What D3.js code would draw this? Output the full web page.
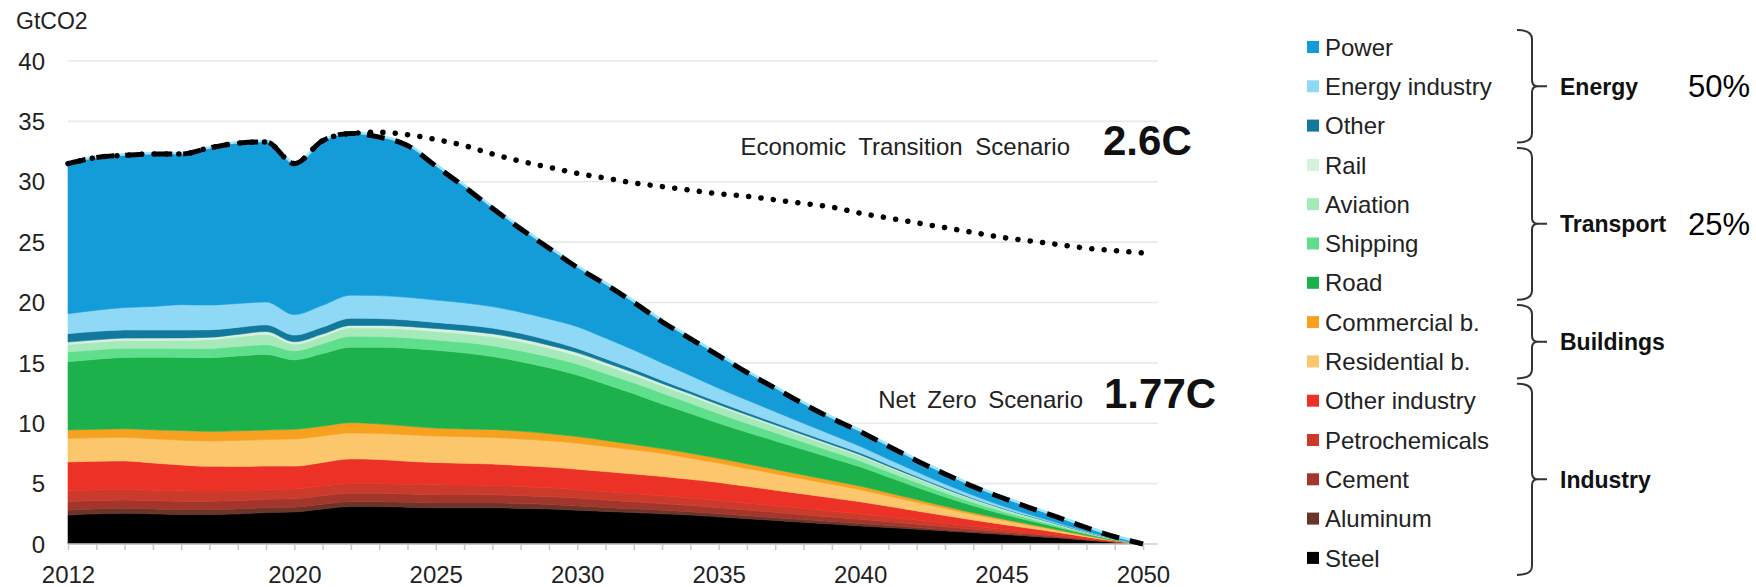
<!DOCTYPE html>
<html>
<head>
<meta charset="utf-8">
<script src="https://cdn.jsdelivr.net/npm/d3@7"></script>
<style>
  html, body { margin: 0; padding: 0; background: #ffffff; }
  svg { display: block; }
  text { font-family: "Liberation Sans", Arial, sans-serif; }
</style>
</head>
<body>
<svg id="chart" width="1756" height="587"></svg>
<script>
// ---------------- DATA ----------------
const years = [2012,2013,2014,2015,2016,2017,2018,2019,2020,2021,2022,2023,2024,2025,2026,2027,2028,2029,2030,
  2031,2032,2033,2034,2035,2036,2037,2038,2039,2040,2041,2042,2043,2044,2045,2046,2047,2048,2049,2050];

const steel = [2.4,2.5,2.55,2.5,2.45,2.45,2.5,2.6,2.65, 2.9,3.1,3.1,3.05,3.0,3.0,3.0,2.95,2.9,2.8,
  2.7,2.6,2.5,2.4,2.25,2.1,1.95,1.8,1.65,1.5, 1.36,1.22,1.08,0.94,0.8,0.65,0.5,0.32,0.14,0];
const aluminum = [0.4,0.4,0.4,0.4,0.4,0.4,0.4,0.4,0.4, 0.4,0.4,0.4,0.4,0.4,0.4,0.4,0.4,0.38,0.35,
  0.33,0.32,0.3,0.27,0.25,0.24,0.23,0.22,0.21,0.2, 0.17,0.14,0.11,0.09,0.07,0.05,0.04,0.02,0.01,0];
const cement = [0.7,0.7,0.7,0.7,0.7,0.7,0.7,0.7,0.7, 0.7,0.7,0.7,0.7,0.7,0.7,0.68,0.65,0.65,0.65,
  0.62,0.58,0.55,0.52,0.5,0.47,0.44,0.41,0.38,0.35, 0.31,0.27,0.23,0.19,0.15,0.12,0.08,0.05,0.02,0];
const petrochemicals = [0.9,0.9,0.88,0.86,0.85,0.83,0.82,0.8,0.8, 0.8,0.8,0.8,0.8,0.8,0.78,0.77,0.75,0.72,0.7,
  0.68,0.67,0.65,0.62,0.6,0.57,0.54,0.51,0.48,0.45, 0.4,0.35,0.3,0.25,0.2,0.16,0.12,0.07,0.03,0];
const otherIndustry = [2.4,2.35,2.35,2.25,2.15,2.05,2.0,1.95,1.9, 1.95,2.05,2.0,1.9,1.85,1.8,1.78,1.75,1.72,1.7,
  1.67,1.63,1.6,1.55,1.5,1.4,1.3,1.2,1.1,1.0, 0.88,0.76,0.64,0.52,0.42,0.32,0.22,0.13,0.05,0];
const residential = [1.95,1.95,1.95,2.0,2.05,2.1,2.15,2.2,2.25, 2.2,2.15,2.15,2.2,2.2,2.2,2.2,2.2,2.18,2.15,
  2.08,2.0,1.9,1.75,1.6,1.48,1.36,1.24,1.12,1.0, 0.86,0.72,0.58,0.45,0.34,0.25,0.16,0.09,0.03,0];
const commercial = [0.7,0.7,0.72,0.75,0.8,0.8,0.8,0.8,0.8, 0.82,0.85,0.8,0.72,0.65,0.65,0.65,0.65,0.6,0.55,
  0.5,0.45,0.4,0.4,0.4,0.38,0.36,0.34,0.32,0.3, 0.26,0.22,0.18,0.15,0.12,0.09,0.06,0.04,0.02,0];
const road = [5.65,5.8,5.9,6.0,6.05,6.1,6.2,6.25,5.75, 6.0,6.25,6.35,6.45,6.45,6.3,6.05,5.75,5.45,5.1,
  4.65,4.2,3.7,3.3,2.9,2.62,2.36,2.1,1.85,1.6, 1.3,1.02,0.78,0.57,0.4,0.28,0.19,0.1,0.04,0];
const shipping = [0.8,0.78,0.76,0.75,0.75,0.77,0.79,0.8,0.75, 0.82,0.9,0.88,0.86,0.85,0.87,0.89,0.9,0.9,0.9,
  0.9,0.9,0.9,0.85,0.8,0.74,0.68,0.62,0.56,0.5, 0.45,0.4,0.34,0.28,0.22,0.17,0.12,0.07,0.03,0];
const aviation = [0.62,0.63,0.64,0.65,0.67,0.72,0.8,0.85,0.55, 0.6,0.7,0.7,0.7,0.7,0.72,0.74,0.75,0.72,0.7,
  0.67,0.63,0.6,0.6,0.6,0.56,0.52,0.48,0.44,0.4, 0.36,0.32,0.27,0.22,0.18,0.14,0.1,0.06,0.02,0];
const rail = [0.2,0.2,0.2,0.2,0.2,0.2,0.2,0.25,0.2, 0.2,0.2,0.22,0.24,0.25,0.25,0.25,0.25,0.25,0.25,
  0.23,0.22,0.2,0.18,0.15,0.14,0.13,0.12,0.11,0.1, 0.09,0.08,0.07,0.06,0.05,0.04,0.03,0.02,0.01,0];
const otherEnergy = [0.7,0.7,0.68,0.66,0.65,0.62,0.58,0.55,0.55, 0.58,0.6,0.57,0.53,0.5,0.48,0.47,0.45,0.4,0.35,
  0.32,0.28,0.25,0.22,0.2,0.19,0.18,0.17,0.16,0.15, 0.13,0.11,0.09,0.07,0.05,0.04,0.03,0.02,0.01,0];
const energyIndustry = [1.65,1.75,1.85,1.95,2.1,2.05,1.98,1.9,1.7, 1.8,1.9,1.9,1.88,1.85,1.82,1.78,1.75,1.77,1.8,
  1.7,1.58,1.45,1.3,1.15,1.03,0.91,0.79,0.67,0.55, 0.45,0.37,0.3,0.24,0.18,0.13,0.09,0.06,0.03,0];
const power = [12.43,12.64,12.62,12.63,12.48,13.01,13.28,13.25,12.5, 13.63,13.4,13.13,12.57,11.1,9.63,8.14,6.9,5.86,4.9,
  4.45,3.94,3.4,3.04,2.7,2.28,1.94,1.6,1.35,1.2, 1.08,0.92,0.83,0.72,0.67,0.56,0.46,0.3,0.16,0];

const economicTransition = [31.5,32.0,32.2,32.3,32.3,32.8,33.2,33.3,31.5, 33.4,34.0,34.1,33.9,33.5,33.0,32.3,31.7,31.2,30.7,
  30.3,29.9,29.6,29.3,29.0,28.8,28.5,28.2,27.9,27.4, 27.0,26.6,26.2,25.8,25.4,25.1,24.8,24.5,24.3,24.1];

// stack order: bottom -> top
const seriesNames = ["Steel","Aluminum","Cement","Petrochemicals","Other industry","Residential b.","Commercial b.",
  "Road","Shipping","Aviation","Rail","Other","Energy industry","Power"];
const seriesValues = [steel, aluminum, cement, petrochemicals, otherIndustry, residential, commercial,
  road, shipping, aviation, rail, otherEnergy, energyIndustry, power];
const seriesColors = ["#000000","#6a3428","#a3362c","#cc3a2c","#ec3226","#fcc66c","#f6a11f",
  "#1db14c","#5fdf8c","#a6e9bb","#d6f2de","#12789c","#8fd9f7","#149cd9"];

// legend (top -> bottom)
const legendNames = ["Power","Energy industry","Other","Rail","Aviation","Shipping","Road",
  "Commercial b.","Residential b.","Other industry","Petrochemicals","Cement","Aluminum","Steel"];

const groups = [
  {name:"Energy", first:0, last:2, pct:"50%"},
  {name:"Transport", first:3, last:6, pct:"25%"},
  {name:"Buildings", first:7, last:8, pct:""},
  {name:"Industry", first:9, last:13, pct:""}
];

const yTicks = [0,5,10,15,20,25,30,35,40];
const xLabelYears = [2012,2020,2025,2030,2035,2040,2045,2050];

// ---------------- DRAW ----------------
const svg = d3.select("#chart");
const x = d3.scaleLinear().domain([2012, 2050]).range([68, 1143]);
const y = d3.scaleLinear().domain([0, 40]).range([544, 61]);
const gridRight = 1158;

// gridlines
svg.append("g").selectAll("line").data(yTicks.filter(d => d > 0)).join("line")
  .attr("x1", 68).attr("x2", gridRight)
  .attr("y1", d => y(d)).attr("y2", d => y(d))
  .attr("stroke", "#e9e9e9").attr("stroke-width", 1.6);

// y labels
svg.append("g").selectAll("text").data(yTicks).join("text")
  .attr("x", 45).attr("y", d => y(d)).attr("dy", "0.36em")
  .attr("text-anchor", "end").attr("font-size", 24).attr("fill", "#222")
  .text(d => d);

svg.append("text").attr("x", 16).attr("y", 29).attr("font-size", 23).attr("fill", "#222").text("GtCO2");

// stacked data table
const table = years.map((yr, i) => {
  const row = {year: yr};
  seriesNames.forEach((n, k) => row[n] = seriesValues[k][i]);
  return row;
});
const stack = d3.stack().keys(seriesNames);
const layers = stack(table);

const area = d3.area()
  .x(d => x(d.data.year))
  .y0(d => y(d[0]))
  .y1(d => y(d[1]))
  .curve(d3.curveMonotoneX);

svg.append("g").selectAll("path").data(layers).join("path")
  .attr("d", area)
  .attr("fill", (d, i) => seriesColors[i])
  .attr("stroke", (d, i) => seriesColors[i])
  .attr("stroke-width", 0.6);

// x axis baseline and ticks
const xAxis = d3.axisBottom(x)
  .tickValues(years)
  .tickSize(6)
  .tickFormat(d => xLabelYears.includes(d) ? String(d) : "");
const gx = svg.append("g").attr("transform", `translate(0,${y(0)})`).call(xAxis);
gx.select(".domain").attr("stroke", "#d0d0d0").attr("stroke-width", 1.5).attr("d", `M68,0H${gridRight}`);
gx.selectAll(".tick line").attr("stroke", "#c8c8c8").attr("stroke-width", 1.5);
gx.selectAll(".tick text").attr("font-size", 24).attr("fill", "#222")
  .attr("font-family", "Liberation Sans, Arial, sans-serif").attr("y", 22);

// totals for net zero line
const totalLine = d3.line()
  .x(d => x(d.data.year))
  .y(d => y(d[1]))
  .curve(d3.curveMonotoneX);
const topLayer = layers[layers.length - 1];

svg.append("path").datum(topLayer).attr("d", totalLine)
  .attr("fill", "none").attr("stroke", "#9fe4f8").attr("stroke-width", 2.5)
  .attr("transform", "translate(1,-1)");

// economic transition dotted line
const etLine = d3.line()
  .x((d, i) => x(years[i]))
  .y(d => y(d))
  .curve(d3.curveMonotoneX);
svg.append("path").datum(economicTransition).attr("d", etLine)
  .attr("fill", "none").attr("stroke", "#000").attr("stroke-width", 5.5)
  .attr("stroke-linecap", "round").attr("stroke-dasharray", "0.1,12.3");

// net zero dashed line
svg.append("path").datum(topLayer).attr("d", totalLine)
  .attr("fill", "none").attr("stroke", "#000").attr("stroke-width", 5)
  .attr("stroke-dasharray", "18,11");

// scenario annotations
svg.append("text").attr("x", 1070).attr("y", 155).attr("text-anchor", "end")
  .attr("font-size", 24).attr("word-spacing", 6).attr("fill", "#222").text("Economic Transition Scenario");
svg.append("text").attr("x", 1103).attr("y", 155)
  .attr("font-size", 42).attr("font-weight", "bold").attr("fill", "#111").text("2.6C");
svg.append("text").attr("x", 1083).attr("y", 408).attr("text-anchor", "end")
  .attr("font-size", 24).attr("word-spacing", 5).attr("fill", "#222").text("Net Zero Scenario");
svg.append("text").attr("x", 1104).attr("y", 408)
  .attr("font-size", 42).attr("font-weight", "bold").attr("fill", "#111").text("1.77C");

// legend
const legY0 = 47, legStep = 39.3;
const colorOf = n => seriesColors[seriesNames.indexOf(n)];
const leg = svg.append("g");
leg.selectAll("rect").data(legendNames).join("rect")
  .attr("x", 1307).attr("y", (d, i) => legY0 + i * legStep - 6)
  .attr("width", 12).attr("height", 12)
  .attr("fill", d => colorOf(d));
leg.selectAll("text").data(legendNames).join("text")
  .attr("x", 1325).attr("y", (d, i) => legY0 + i * legStep).attr("dy", "0.36em")
  .attr("font-size", 24).attr("fill", "#222").text(d => d);

// braces
const bx0 = 1517, bx1 = 1532, bx2 = 1547, r = 9;
groups.forEach(g => {
  const y0 = legY0 + g.first * legStep - 17;
  const y1 = legY0 + g.last * legStep + 17;
  const ym = (y0 + y1) / 2;
  const p = `M${bx0},${y0} Q${bx1},${y0} ${bx1},${y0 + r} L${bx1},${ym - 6} Q${bx1},${ym} ${bx1 + 6},${ym} L${bx2},${ym}` +
            ` M${bx1 + 6},${ym} Q${bx1},${ym} ${bx1},${ym + 6} L${bx1},${y1 - r} Q${bx1},${y1} ${bx0},${y1}`;
  svg.append("path").attr("d", p).attr("fill", "none").attr("stroke", "#333").attr("stroke-width", 2);
  svg.append("text").attr("x", 1560).attr("y", ym).attr("dy", "0.36em")
    .attr("font-size", 23).attr("font-weight", "bold").attr("fill", "#111").text(g.name);
  if (g.pct) {
    svg.append("text").attr("x", 1688).attr("y", ym).attr("dy", "0.36em")
      .attr("font-size", 31).attr("font-family", "Open Sans, Noto Sans, sans-serif")
      .attr("fill", "#000").text(g.pct);
  }
});
</script>
</body>
</html>
